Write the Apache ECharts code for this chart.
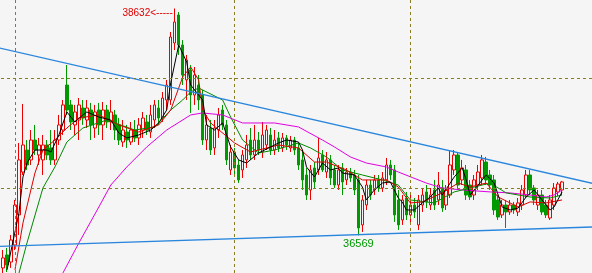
<!DOCTYPE html>
<html><head><meta charset="utf-8">
<script src="https://cdn.jsdelivr.net/npm/echarts@6/dist/echarts.min.js"></script>
<style>html,body{margin:0;padding:0;background:#f5f5f5}#c{width:592px;height:273px}</style>
</head><body><div id="c"></div>
<script>
// OHLC: [open, close, low, high]
const candles = [
[36273,36364,36209,36436],[36391,36300,36236,36455],[36327,36527,36273,36573],[36482,36845,36436,36891],
[36755,37255,36573,37409],[37145,37391,37118,37764],[37345,37209,37164,37436],[37255,37436,37209,37527],
[37436,37345,37300,37573],[37300,37391,37209,37455],[37255,37391,37118,37482],[37391,37300,37255,37436],
[37364,37255,37209,37527],[37255,37436,37209,37527],[37436,37573,37391,37664],[37527,37755,37482,37800],
[37936,37709,37664,38118],[37755,37600,37527,37800],[37573,37691,37482,37755],[37618,37755,37436,37818],
[37727,37636,37573,37800],[37618,37727,37545,37800],[37709,37573,37436,37773],[37545,37691,37455,37755],
[37709,37573,37482,37773],[37573,37709,37436,37782],[37709,37600,37545,37755],[37600,37691,37527,37800],
[37664,37527,37436,37709],[37573,37436,37391,37636],[37418,37527,37373,37618],[37509,37436,37364,37573],
[37418,37527,37391,37600],[37527,37455,37418,37618],[37455,37573,37391,37636],[37527,37636,37455,37691],
[37600,37527,37482,37664],[37509,37664,37455,37755],[37618,37755,37545,37800],[37727,37636,37573,37800],
[37636,37818,37600,37873],[37800,37936,37709,37982],[37800,38373,37755,38418],[38318,38509,38254,38632],
[38573,38300,38209,38600],[38300,38027,37936,38345],[37982,38164,37800,38209],[38073,37845,37682,38118],
[37845,38027,37755,38100],[37936,37800,37709,38027],[37845,37436,37391,37891],[37436,37573,37345,37664],
[37545,37345,37300,37618],[37364,37545,37300,37618],[37527,37664,37455,37727],[37709,37573,37527,37755],
[37573,37255,37209,37618],[37164,37327,37118,37391],[37327,37182,37118,37364],[37209,37073,37045,37255],
[37164,37300,37091,37345],[37255,37391,37182,37482],[37436,37300,37255,37545],[37300,37436,37255,37573],
[37436,37345,37300,37509],[37327,37482,37273,37600],[37391,37527,37345,37573],[37482,37345,37300,37545],
[37345,37436,37300,37527],[37455,37364,37327,37509],[37364,37455,37327,37500],[37455,37391,37345,37482],
[37364,37436,37327,37473],[37436,37345,37300,37464],[37364,37209,37164,37409],[37255,37073,36982,37345],
[37118,36936,36891,37182],[36982,37164,36891,37209],[37182,37055,37000,37236],[37164,37273,37118,37455],
[37300,37164,37145,37345],[37145,37255,37091,37327],[37255,37091,37027,37300],[37164,37027,37000,37209],
[37027,37164,36982,37209],[37182,37055,36936,37227],[37073,37145,37027,37182],[37145,37091,37055,37182],
[37118,36982,36936,37164],[37073,36636,36569,37118],[36664,36891,36600,36936],[36845,37027,36800,37073],
[37027,36936,36891,37073],[36982,37073,36936,37118],[37073,37000,36964,37118],[37000,37091,36964,37145],
[37073,37209,37027,37273],[37209,37118,37073,37255],[37164,36755,36691,37209],[36891,36664,36618,36982],
[36709,36891,36664,36936],[36909,36755,36709,36964],[36755,36845,36664,36936],[36845,36782,36727,36909],
[36664,36891,36618,36936],[36845,36936,36782,37000],[36964,36873,36818,37027],[36845,36936,36800,37000],
[36982,36845,36800,37073],[36891,37027,36845,37145],[37000,36818,36782,37073],[36845,36982,36800,37027],
[36936,37209,36909,37345],[37164,37300,37118,37345],[37300,37027,36982,37327],[37073,37182,37027,37255],
[37164,36936,36891,37209],[37027,36918,36891,37073],[36936,37073,36891,37118],[37027,37145,36982,37209],
[37091,37255,37027,37300],[37236,37073,37027,37282],[37118,37027,36982,37164],[37073,36800,36755,37118],
[36891,36736,36709,36936],[36755,36845,36727,36891],[36845,36782,36636,36891],[36782,36845,36755,36891],
[36845,36800,36764,36873],[36782,36864,36745,36909],[36845,36982,36800,37027],[36936,37118,36909,37164],
[37118,36982,36936,37164],[37000,36891,36845,37027],[36845,36936,36800,36982],[36936,36782,36755,36982],
[36845,36755,36727,36891],[36727,36891,36709,36936],[36845,37000,36800,37045],[36964,37036,36927,37055],
[36982,37055,36936,37064]
];
const categoryCount = 148;
const categories = Array.from({length: categoryCount}, (_, i) => String(i));

// moving-average lines: [candle index, price]
const maBlack = [[1,36255],[4,36773],[5,37100],[6,37227],[8,37345],[11,37345],[12,37327],[14,37482],[16,37691],[18,37600],[20,37664],[21,37691],[24,37645],[27,37618],[29,37500],[31,37455],[34,37482],[37,37527],[39,37591],[41,37709],[42,37955],[44,38300],[46,38145],[47,37936],[49,37845],[50,37800],[51,37573],[53,37527],[55,37591],[57,37373],[59,37255],[61,37227],[64,37318],[69,37409],[71,37436],[74,37418],[75,37345],[76,37191],[78,37100],[80,37227],[82,37164],[84,37182],[85,37136],[88,37118],[90,37009],[91,36891],[93,36982],[95,37045],[97,37055],[98,36982],[99,36909],[100,36873],[101,36800],[103,36800],[105,36864],[107,36918],[109,37000],[110,36936],[113,37100],[115,37182],[116,37073],[117,36936],[119,37027],[121,37118],[123,37045],[125,36827],[127,36800],[129,36818],[131,36918],[133,36982],[135,36891],[137,36800],[138,36827],[140,36964]];
const maRed = [[3,36255],[5,36682],[8,37136],[10,37345],[13,37436],[16,37545],[19,37636],[24,37664],[29,37573],[34,37509],[39,37573],[42,37709],[45,38009],[47,38100],[49,37982],[50,37709],[52,37591],[58,37409],[62,37327],[69,37391],[74,37364],[78,37236],[81,37236],[86,37164],[90,37073],[96,37073],[99,37009],[102,36864],[105,36873],[110,36955],[114,37045],[117,37009],[121,37045],[124,36918],[129,36827],[132,36873],[136,36864],[140,36891]];
const maGreen = [[4,36227],[6,36500],[10,37000],[13,37191],[16,37418],[20,37545],[26,37618],[33,37527],[38,37555],[42,37709],[45,37800],[47,37873],[49,37909],[55,37800],[57,37645],[60,37436],[64,37318],[68,37345],[74,37409],[77,37364],[81,37282],[85,37164],[90,37118],[95,37073],[99,37027],[102,36891],[108,36864],[113,36964],[117,37000],[122,37045],[126,36955],[132,36918],[137,36909],[140,36936]];
const maMagenta = [[12,35982],[15,36227],[19,36500],[24,36827],[27,37027],[31,37191],[36,37373],[41,37527],[47,37664],[50,37682],[55,37664],[60,37591],[68,37591],[74,37555],[80,37436],[83,37373],[87,37282],[91,37227],[96,37191],[99,37145],[106,37045],[110,37000],[115,36982],[122,36964],[127,36955],[132,36936],[136,36918],[138,36936],[140,36982]];

// trend lines: [index, price] end points
const upperTrend = [[-1,38274],[148,37039]];
const lowerTrend = [[-1,36468],[148,36646]];

const gridPrices = [38000, 37000];
const gridIndices = [3, 58, 102];
const highPoint = {index: 43, value: 38632, text: '38632<-----'};
const lowPoint = {index: 89, value: 36569, text: '36569'};

const yMin = 36227, yMax = 38709;

const chart = echarts.init(document.getElementById('c'), null, {renderer: 'canvas'});
const dash = {color: '#8a7d1c', type: [3, 3], width: 1};
chart.setOption({
  animation: false,
  backgroundColor: '#f5f5f5',
  grid: {left: 1, right: -1, top: 0, bottom: 0},
  xAxis: {type: 'category', data: categories, boundaryGap: true, show: false},
  yAxis: {type: 'value', min: yMin, max: yMax, show: false, splitLine: {show: false}},
  series: [
    {
      type: 'line', data: [], z: 1, silent: true,
      markLine: {
        silent: true, symbol: 'none', label: {show: false}, lineStyle: dash,
        data: gridPrices.map(p => ({yAxis: p})).concat(gridIndices.map(i => ({xAxis: i})))
      }
    },
    {
      type: 'candlestick', data: candles, barWidth: 3, z: 2,
      itemStyle: {color: 'transparent', color0: '#009a00', borderColor: '#ee0000', borderColor0: '#009a00', borderWidth: 1},
      markPoint: {
        symbol: 'circle', symbolSize: 0, silent: true,
        data: [
          {coord: [highPoint.index, highPoint.value], label: {show: true, position: 'left', distance: 2, offset: [0, 5], formatter: highPoint.text, color: '#e00000', fontSize: 10, fontFamily: 'Liberation Sans'}},
          {coord: [lowPoint.index, lowPoint.value], label: {show: true, position: 'bottom', distance: 3, formatter: lowPoint.text, color: '#009a00', fontSize: 11, fontFamily: 'Liberation Sans'}}
        ]
      }
    },
    {type: 'line', data: maMagenta, symbol: 'none', z: 3, lineStyle: {color: '#e000e0', width: 1}},
    {type: 'line', data: maGreen, symbol: 'none', z: 3, lineStyle: {color: '#008a00', width: 1}},
    {type: 'line', data: maRed, symbol: 'none', z: 3, lineStyle: {color: '#dd0000', width: 1}},
    {type: 'line', data: maBlack, symbol: 'none', z: 3, lineStyle: {color: '#000000', width: 1}},
    {type: 'line', data: upperTrend, symbol: 'none', z: 4, clip: false, lineStyle: {color: '#2a86dd', width: 1.3}},
    {type: 'line', data: lowerTrend, symbol: 'none', z: 4, clip: false, lineStyle: {color: '#2a86dd', width: 1.3}}
  ]
});
</script></body></html>
